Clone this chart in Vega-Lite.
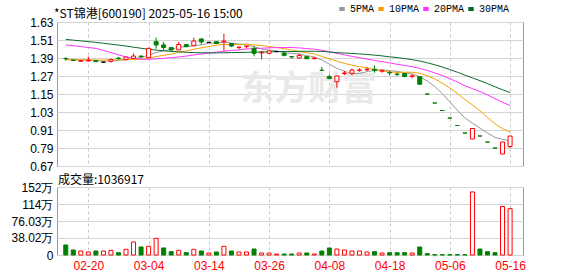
{
 "$schema": "https://vega.github.io/schema/vega-lite/v6.json",
 "padding": {"left": 5, "top": 4, "right": 5, "bottom": 2},
 "background": "white",
 "spacing": 0,
 "config": {
  "view": {"stroke": "#9a9a9a", "strokeWidth": 1},
  "axis": {"domain": false, "ticks": false, "gridColor": "#d4d4d4", "gridWidth": 1, "labelFont": "Liberation Sans", "labelFontSize": 12, "labelColor": "#000000"},
  "title": {"font": "Noto Sans CJK SC", "fontSize": 12, "fontWeight": "normal", "anchor": "start", "frame": "group", "baseline": "top", "color": "#000000"}
 },
 "datasets": {
  "k": [
   {"i":0,"d":"02-17","o":1.387,"h":1.395,"l":1.372,"c":1.385,"v":22.4,"vd":"d","5PMA":1.381,"10PMA":1.379,"20PMA":1.477,"30PMA":1.514},
   {"i":1,"d":"02-18","o":1.376,"h":1.378,"l":1.372,"c":1.374,"v":11.2,"vd":"d","5PMA":1.379,"10PMA":1.378,"20PMA":1.472,"30PMA":1.509},
   {"i":2,"d":"02-19","o":1.368,"h":1.374,"l":1.366,"c":1.372,"v":8.9,"vd":"u","5PMA":1.377,"10PMA":1.377,"20PMA":1.466,"30PMA":1.504},
   {"i":3,"d":"02-20","o":1.370,"h":1.399,"l":1.366,"c":1.375,"v":6.7,"vd":"u","5PMA":1.376,"10PMA":1.377,"20PMA":1.460,"30PMA":1.499},
   {"i":4,"d":"02-21","o":1.372,"h":1.373,"l":1.364,"c":1.366,"v":8.9,"vd":"d","5PMA":1.374,"10PMA":1.376,"20PMA":1.454,"30PMA":1.494},
   {"i":5,"d":"02-24","o":1.362,"h":1.364,"l":1.358,"c":1.362,"v":8.9,"vd":"u","5PMA":1.370,"10PMA":1.376,"20PMA":1.440,"30PMA":1.488},
   {"i":6,"d":"02-25","o":1.368,"h":1.386,"l":1.359,"c":1.379,"v":10.4,"vd":"u","5PMA":1.371,"10PMA":1.377,"20PMA":1.426,"30PMA":1.482},
   {"i":7,"d":"02-26","o":1.389,"h":1.397,"l":1.379,"c":1.387,"v":5.2,"vd":"d","5PMA":1.374,"10PMA":1.378,"20PMA":1.411,"30PMA":1.476},
   {"i":8,"d":"02-27","o":1.379,"h":1.398,"l":1.378,"c":1.396,"v":12.7,"vd":"u","5PMA":1.378,"10PMA":1.379,"20PMA":1.397,"30PMA":1.470},
   {"i":9,"d":"02-28","o":1.388,"h":1.421,"l":1.386,"c":1.403,"v":29.1,"vd":"u","5PMA":1.385,"10PMA":1.380,"20PMA":1.388,"30PMA":1.462},
   {"i":10,"d":"03-03","o":1.403,"h":1.407,"l":1.395,"c":1.398,"v":17.9,"vd":"d","5PMA":1.393,"10PMA":1.381,"20PMA":1.382,"30PMA":1.455},
   {"i":11,"d":"03-04","o":1.392,"h":1.460,"l":1.390,"c":1.454,"v":19.4,"vd":"u","5PMA":1.408,"10PMA":1.389,"20PMA":1.381,"30PMA":1.448},
   {"i":12,"d":"03-05","o":1.499,"h":1.526,"l":1.452,"c":1.477,"v":37.3,"vd":"u","5PMA":1.426,"10PMA":1.400,"20PMA":1.384,"30PMA":1.443},
   {"i":13,"d":"03-06","o":1.477,"h":1.497,"l":1.440,"c":1.460,"v":15.7,"vd":"d","5PMA":1.438,"10PMA":1.408,"20PMA":1.388,"30PMA":1.438},
   {"i":14,"d":"03-07","o":1.459,"h":1.460,"l":1.432,"c":1.444,"v":7.5,"vd":"d","5PMA":1.447,"10PMA":1.416,"20PMA":1.392,"30PMA":1.434},
   {"i":15,"d":"03-10","o":1.444,"h":1.497,"l":1.442,"c":1.480,"v":10.4,"vd":"u","5PMA":1.463,"10PMA":1.428,"20PMA":1.397,"30PMA":1.431},
   {"i":16,"d":"03-11","o":1.479,"h":1.482,"l":1.463,"c":1.466,"v":5.2,"vd":"d","5PMA":1.465,"10PMA":1.437,"20PMA":1.403,"30PMA":1.428},
   {"i":17,"d":"03-12","o":1.472,"h":1.526,"l":1.470,"c":1.503,"v":12.7,"vd":"u","5PMA":1.471,"10PMA":1.448,"20PMA":1.410,"30PMA":1.426},
   {"i":18,"d":"03-13","o":1.517,"h":1.520,"l":1.481,"c":1.497,"v":8.9,"vd":"d","5PMA":1.478,"10PMA":1.458,"20PMA":1.417,"30PMA":1.425},
   {"i":19,"d":"03-14","o":1.494,"h":1.497,"l":1.490,"c":1.494,"v":4.5,"vd":"u","5PMA":1.488,"10PMA":1.467,"20PMA":1.424,"30PMA":1.424},
   {"i":20,"d":"03-17","o":1.499,"h":1.500,"l":1.485,"c":1.487,"v":6.7,"vd":"d","5PMA":1.489,"10PMA":1.476,"20PMA":1.429,"30PMA":1.424},
   {"i":21,"d":"03-18","o":1.497,"h":1.552,"l":1.437,"c":1.503,"v":19.4,"vd":"u","5PMA":1.497,"10PMA":1.481,"20PMA":1.435,"30PMA":1.425},
   {"i":22,"d":"03-19","o":1.486,"h":1.488,"l":1.463,"c":1.470,"v":8.9,"vd":"d","5PMA":1.490,"10PMA":1.480,"20PMA":1.440,"30PMA":1.426},
   {"i":23,"d":"03-20","o":1.460,"h":1.466,"l":1.448,"c":1.462,"v":6.7,"vd":"u","5PMA":1.483,"10PMA":1.481,"20PMA":1.444,"30PMA":1.427},
   {"i":24,"d":"03-21","o":1.467,"h":1.472,"l":1.454,"c":1.469,"v":6.7,"vd":"u","5PMA":1.478,"10PMA":1.483,"20PMA":1.450,"30PMA":1.428},
   {"i":25,"d":"03-24","o":1.454,"h":1.468,"l":1.401,"c":1.421,"v":13.4,"vd":"d","5PMA":1.465,"10PMA":1.477,"20PMA":1.453,"30PMA":1.429},
   {"i":26,"d":"03-25","o":1.424,"h":1.437,"l":1.381,"c":1.428,"v":4.5,"vd":"u","5PMA":1.450,"10PMA":1.473,"20PMA":1.455,"30PMA":1.430},
   {"i":27,"d":"03-26","o":1.421,"h":1.439,"l":1.419,"c":1.437,"v":4.5,"vd":"u","5PMA":1.443,"10PMA":1.467,"20PMA":1.458,"30PMA":1.431},
   {"i":28,"d":"03-27","o":1.433,"h":1.437,"l":1.430,"c":1.433,"v":2.2,"vd":"u","5PMA":1.438,"10PMA":1.460,"20PMA":1.459,"30PMA":1.432},
   {"i":29,"d":"03-28","o":1.421,"h":1.430,"l":1.401,"c":1.408,"v":2.2,"vd":"d","5PMA":1.425,"10PMA":1.452,"20PMA":1.460,"30PMA":1.433},
   {"i":30,"d":"03-31","o":1.399,"h":1.403,"l":1.386,"c":1.397,"v":2.2,"vd":"d","5PMA":1.421,"10PMA":1.443,"20PMA":1.460,"30PMA":1.433},
   {"i":31,"d":"04-01","o":1.390,"h":1.421,"l":1.388,"c":1.407,"v":4.5,"vd":"u","5PMA":1.416,"10PMA":1.433,"20PMA":1.457,"30PMA":1.435},
   {"i":32,"d":"04-02","o":1.399,"h":1.401,"l":1.383,"c":1.385,"v":4.5,"vd":"d","5PMA":1.406,"10PMA":1.425,"20PMA":1.453,"30PMA":1.435},
   {"i":33,"d":"04-03","o":1.386,"h":1.397,"l":1.381,"c":1.389,"v":2.2,"vd":"u","5PMA":1.397,"10PMA":1.417,"20PMA":1.449,"30PMA":1.435},
   {"i":34,"d":"04-07","o":1.308,"h":1.330,"l":1.308,"c":1.308,"v":8.9,"vd":"d","5PMA":1.377,"10PMA":1.401,"20PMA":1.442,"30PMA":1.434},
   {"i":35,"d":"04-08","o":1.266,"h":1.281,"l":1.248,"c":1.254,"v":15.7,"vd":"d","5PMA":1.349,"10PMA":1.385,"20PMA":1.431,"30PMA":1.430},
   {"i":36,"d":"04-09","o":1.232,"h":1.272,"l":1.192,"c":1.270,"v":13.4,"vd":"u","5PMA":1.321,"10PMA":1.369,"20PMA":1.421,"30PMA":1.426},
   {"i":37,"d":"04-10","o":1.286,"h":1.303,"l":1.277,"c":1.290,"v":11.2,"vd":"u","5PMA":1.302,"10PMA":1.354,"20PMA":1.411,"30PMA":1.423},
   {"i":38,"d":"04-11","o":1.288,"h":1.319,"l":1.274,"c":1.310,"v":8.9,"vd":"u","5PMA":1.286,"10PMA":1.342,"20PMA":1.401,"30PMA":1.420},
   {"i":39,"d":"04-14","o":1.308,"h":1.321,"l":1.299,"c":1.310,"v":8.9,"vd":"u","5PMA":1.287,"10PMA":1.332,"20PMA":1.392,"30PMA":1.417},
   {"i":40,"d":"04-15","o":1.312,"h":1.326,"l":1.303,"c":1.315,"v":6.7,"vd":"u","5PMA":1.299,"10PMA":1.324,"20PMA":1.383,"30PMA":1.414},
   {"i":41,"d":"04-16","o":1.314,"h":1.341,"l":1.292,"c":1.308,"v":7.5,"vd":"d","5PMA":1.307,"10PMA":1.314,"20PMA":1.374,"30PMA":1.409},
   {"i":42,"d":"04-17","o":1.302,"h":1.314,"l":1.292,"c":1.308,"v":4.5,"vd":"u","5PMA":1.310,"10PMA":1.306,"20PMA":1.366,"30PMA":1.404},
   {"i":43,"d":"04-18","o":1.293,"h":1.303,"l":1.274,"c":1.291,"v":5.2,"vd":"d","5PMA":1.306,"10PMA":1.296,"20PMA":1.357,"30PMA":1.398},
   {"i":44,"d":"04-21","o":1.283,"h":1.292,"l":1.270,"c":1.281,"v":5.2,"vd":"d","5PMA":1.301,"10PMA":1.294,"20PMA":1.348,"30PMA":1.393},
   {"i":45,"d":"04-22","o":1.286,"h":1.287,"l":1.265,"c":1.267,"v":5.2,"vd":"d","5PMA":1.291,"10PMA":1.295,"20PMA":1.340,"30PMA":1.386},
   {"i":46,"d":"04-23","o":1.268,"h":1.281,"l":1.254,"c":1.271,"v":4.5,"vd":"u","5PMA":1.284,"10PMA":1.295,"20PMA":1.332,"30PMA":1.379},
   {"i":47,"d":"04-24","o":1.266,"h":1.270,"l":1.213,"c":1.215,"v":17.9,"vd":"d","5PMA":1.265,"10PMA":1.288,"20PMA":1.321,"30PMA":1.370},
   {"i":48,"d":"04-28","o":1.15,"h":1.15,"l":1.15,"c":1.15,"v":3.0,"vd":"d","5PMA":1.237,"10PMA":1.272,"20PMA":1.307,"30PMA":1.358},
   {"i":49,"d":"04-29","o":1.09,"h":1.09,"l":1.09,"c":1.09,"v":0.7,"vd":"d","5PMA":1.199,"10PMA":1.250,"20PMA":1.291,"30PMA":1.345},
   {"i":50,"d":"04-30","o":1.04,"h":1.04,"l":1.04,"c":1.04,"v":0.7,"vd":"d","5PMA":1.153,"10PMA":1.222,"20PMA":1.273,"30PMA":1.330},
   {"i":51,"d":"05-06","o":0.99,"h":0.99,"l":0.99,"c":0.99,"v":0.7,"vd":"d","5PMA":1.097,"10PMA":1.190,"20PMA":1.252,"30PMA":1.313},
   {"i":52,"d":"05-07","o":0.94,"h":0.94,"l":0.94,"c":0.94,"v":0.7,"vd":"d","5PMA":1.042,"10PMA":1.154,"20PMA":1.230,"30PMA":1.295},
   {"i":53,"d":"05-08","o":0.89,"h":0.89,"l":0.89,"c":0.89,"v":0.7,"vd":"d","5PMA":0.990,"10PMA":1.113,"20PMA":1.205,"30PMA":1.276},
   {"i":54,"d":"05-09","o":0.85,"h":0.92,"l":0.85,"c":0.92,"v":141.0,"vd":"u","5PMA":0.956,"10PMA":1.077,"20PMA":1.186,"30PMA":1.257},
   {"i":55,"d":"05-12","o":0.87,"h":0.87,"l":0.87,"c":0.87,"v":13.4,"vd":"d","5PMA":0.922,"10PMA":1.038,"20PMA":1.166,"30PMA":1.239},
   {"i":56,"d":"05-13","o":0.83,"h":0.83,"l":0.83,"c":0.83,"v":7.5,"vd":"d","5PMA":0.890,"10PMA":0.994,"20PMA":1.144,"30PMA":1.219},
   {"i":57,"d":"05-14","o":0.79,"h":0.79,"l":0.79,"c":0.79,"v":5.2,"vd":"d","5PMA":0.860,"10PMA":0.951,"20PMA":1.119,"30PMA":1.198},
   {"i":58,"d":"05-15","o":0.75,"h":0.83,"l":0.75,"c":0.83,"v":108.5,"vd":"u","5PMA":0.848,"10PMA":0.919,"20PMA":1.095,"30PMA":1.178},
   {"i":59,"d":"05-16","o":0.80,"h":0.87,"l":0.79,"c":0.87,"v":103.69,"vd":"u","5PMA":0.838,"10PMA":0.897,"20PMA":1.073,"30PMA":1.160}
  ]
 },
 "vconcat": [
  {
   "width": 466,
   "height": 144,
   "title": {"text": "*ST锦港[600190] 2025-05-16 15:00", "offset": -5, "dx": -3},
   "data": {"name": "k"},
   "encoding": {
    "x": {"field": "i", "type": "quantitative", "scale": {"domain": [-0.5, 60.05], "nice": false, "zero": false},
     "axis": {"values": [3, 11, 19, 27, 35, 43, 51, 59], "labels": false, "grid": true, "gridDash": [3, 3], "gridColor": "#c8c8c8", "title": null}}
   },
   "layer": [
    {
     "data": {"values": [{"wi": 32.2, "wp": 1.177, "wt": "东方财富"}]},
     "mark": {"type": "text", "font": "Noto Sans CJK SC", "fontSize": 34, "fontWeight": "bold", "color": "#e9e9e9", "align": "center", "baseline": "middle"},
     "encoding": {
      "x": {"field": "wi", "type": "quantitative", "axis": {"values": [3, 11, 19, 27, 35, 43, 51, 59], "labels": false, "grid": true, "gridDash": [3, 3], "gridColor": "#c8c8c8", "title": null}},
      "y": {"field": "wp", "type": "quantitative", "scale": {"domain": [0.67, 1.63], "nice": false, "zero": false},
       "axis": {"values": [0.67, 0.79, 0.91, 1.03, 1.15, 1.27, 1.39, 1.51, 1.63], "format": ".2f", "labelPadding": 4, "minExtent": 51, "grid": true, "title": null}},
      "text": {"field": "wt"}
     }
    },
    {
     "transform": [{"fold": ["5PMA", "10PMA", "20PMA", "30PMA"], "as": ["ma", "val"]}],
     "mark": {"type": "line", "strokeWidth": 1},
     "encoding": {
      "y": {"field": "val", "type": "quantitative", "axis": {"values": [0.67, 0.79, 0.91, 1.03, 1.15, 1.27, 1.39, 1.51, 1.63], "format": ".2f", "labelPadding": 4, "minExtent": 51, "grid": true, "title": null}},
      "color": {"field": "ma", "type": "nominal",
       "scale": {"domain": ["5PMA", "10PMA", "20PMA", "30PMA"], "range": ["#999999", "#f5a300", "#ff33ff", "#0a6b2f"]},
       "legend": {"orient": "none", "legendX": 280, "legendY": -18, "direction": "horizontal", "title": null, "labelFont": "Liberation Mono", "labelFontSize": 10, "labelColor": "#000000", "symbolType": "stroke", "symbolStrokeWidth": 4, "symbolSize": 30, "labelOffset": 3, "columnPadding": -5, "padding": 0}}
     }
    },
    {
     "mark": {"type": "rule", "strokeWidth": 1},
     "encoding": {
      "y": {"field": "l", "type": "quantitative", "axis": {"values": [0.67, 0.79, 0.91, 1.03, 1.15, 1.27, 1.39, 1.51, 1.63], "format": ".2f", "labelPadding": 4, "minExtent": 51, "grid": true, "title": null}},
      "y2": {"field": "h"},
      "stroke": {"condition": [{"test": "datum.c > datum.o", "value": "#ff0000"}, {"test": "datum.c < datum.o || datum.vd == 'd'", "value": "#008000"}], "value": "#000000"}
     }
    },
    {
     "mark": {"type": "bar", "orient": "vertical", "size": 4, "strokeWidth": 1},
     "encoding": {
      "y": {"field": "o", "type": "quantitative", "axis": {"values": [0.67, 0.79, 0.91, 1.03, 1.15, 1.27, 1.39, 1.51, 1.63], "format": ".2f", "labelPadding": 4, "minExtent": 51, "grid": true, "title": null}},
      "y2": {"field": "c"},
      "fill": {"condition": [{"test": "datum.c > datum.o", "value": "#ffffff"}, {"test": "datum.c < datum.o || datum.vd == 'd'", "value": "#008000"}], "value": "#000000"},
      "stroke": {"condition": [{"test": "datum.c > datum.o", "value": "#ff0000"}, {"test": "datum.c < datum.o || datum.vd == 'd'", "value": "#008000"}], "value": "#000000"}
     }
    }
   ]
  },
  {
   "width": 466,
   "height": 68,
   "title": {"text": "成交量:1036917", "offset": -6, "dx": 1},
   "data": {"name": "k"},
   "mark": {"type": "bar", "orient": "vertical", "size": 4, "strokeWidth": 1},
   "encoding": {
    "x": {"field": "i", "type": "quantitative", "scale": {"domain": [-0.5, 60.05], "nice": false, "zero": false},
     "axis": {"values": [3, 11, 19, 27, 35, 43, 51, 59], "labelExpr": "['02-20','03-04','03-14','03-26','04-08','04-18','05-06','05-16'][(datum.value-3)/8]", "labelColor": "#ff0000", "labelFont": "Liberation Sans", "labelFontSize": 12, "labelPadding": 5, "labelFlush": false, "labelOverlap": false, "grid": true, "gridDash": [3, 3], "gridColor": "#c8c8c8", "title": null}},
    "y": {"field": "v", "type": "quantitative", "stack": null, "scale": {"domain": [0, 152.07], "nice": false},
     "axis": {"values": [0, 38.02, 76.03, 114.05, 152.07], "labelExpr": "datum.value == 0 ? '0' : (datum.value > 100 ? format(datum.value, '.0f') : format(datum.value, '.2f')) + '万'", "labelPadding": 4, "minExtent": 51, "grid": true, "title": null}},
    "fill": {"condition": {"test": "datum.vd == 'u'", "value": "#ffffff"}, "value": "#008000"},
    "stroke": {"condition": {"test": "datum.vd == 'u'", "value": "#ff0000"}, "value": "#008000"}
   }
  }
 ]
}
